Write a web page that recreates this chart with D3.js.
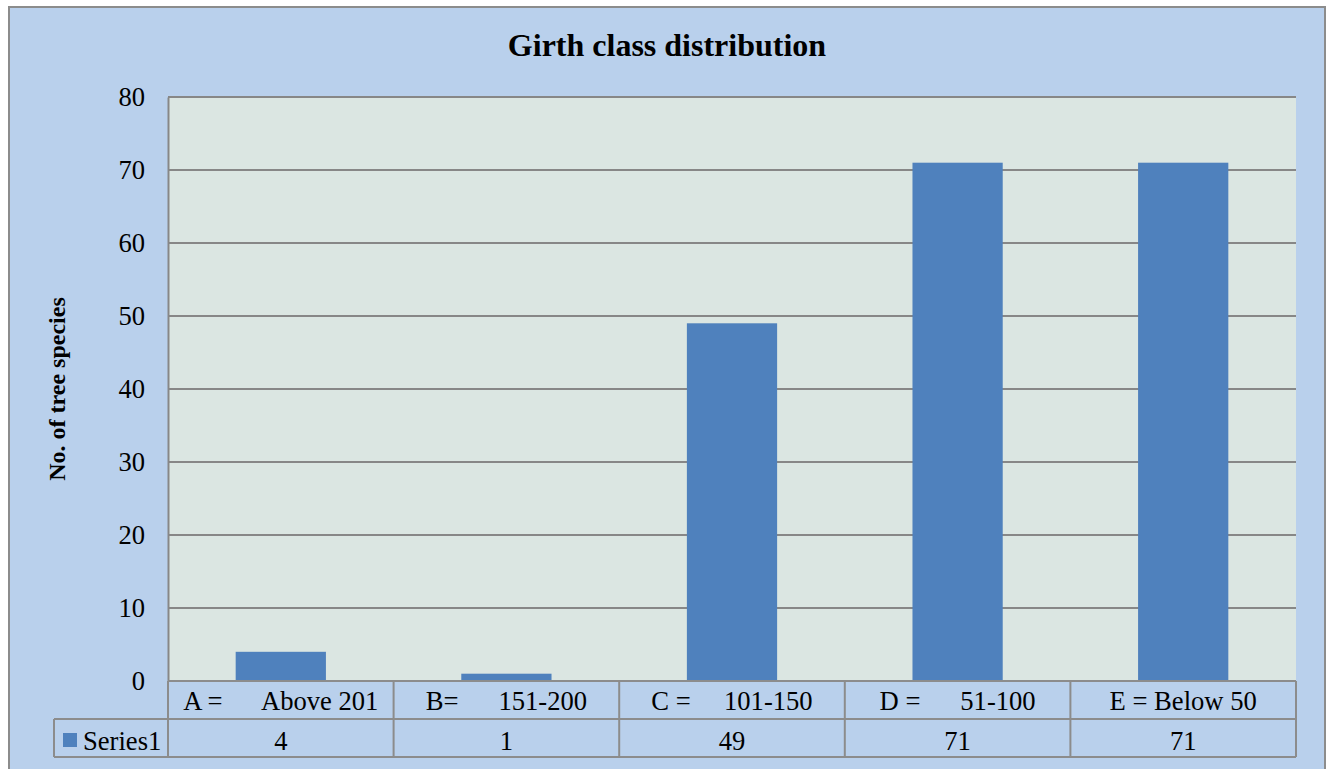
<!DOCTYPE html>
<html>
<head>
<meta charset="utf-8">
<script src="https://cdn.jsdelivr.net/npm/d3@7"></script>
<style>
  html, body { margin: 0; padding: 0; background: #ffffff; }
</style>
</head>
<body>
<svg id="chart" width="1330" height="769"></svg>
<script>
// Girth classes and number of tree species in each
const categories = ["A =      Above 201", "B=      151-200", "C =     101-150", "D =      51-100", "E = Below 50"];
const values = [4, 1, 49, 71, 71];
const seriesName = "Series1";
const yTicks = [0, 10, 20, 30, 40, 50, 60, 70, 80];

const FONT = "'Liberation Serif', Tinos, 'Times New Roman', Times, serif";
const BODY_SIZE = 26.6;

const svg = d3.select("#chart")
  .style("font-family", FONT);

const frame = { left: 9, top: 7, right: 1325, bottom: 775 };
const plot = { left: 168, top: 97, right: 1296, bottom: 681 };
const rowH = 38;
const legendLeft = 54;

const colors = {
  bg: "#b9d0ec",
  plot: "#dbe6e2",
  bar: "#4f81bd",
  grid: "#878787",
  border: "#8c8c8c",
  text: "#000000"
};

// Chart frame
svg.append("rect")
  .attr("x", frame.left).attr("y", frame.top)
  .attr("width", frame.right - frame.left).attr("height", frame.bottom - frame.top)
  .attr("fill", colors.bg).attr("stroke", colors.border).attr("stroke-width", 2);

// Plot area
svg.append("rect")
  .attr("x", plot.left).attr("y", plot.top)
  .attr("width", plot.right - plot.left).attr("height", plot.bottom - plot.top)
  .attr("fill", colors.plot);

const x = d3.scaleBand().domain(categories).range([plot.left, plot.right]).padding(0);
const y = d3.scaleLinear().domain([0, 80]).range([plot.bottom, plot.top]);

// Horizontal gridlines
svg.append("g").selectAll("line").data(yTicks).join("line")
  .attr("x1", plot.left).attr("x2", plot.right)
  .attr("y1", d => y(d)).attr("y2", d => y(d))
  .attr("stroke", colors.grid).attr("stroke-width", 2);

// Value axis
const yAxis = d3.axisLeft(y).tickValues(yTicks).tickSize(0).tickPadding(23);
const yg = svg.append("g").attr("transform", `translate(${plot.left},0)`).call(yAxis)
  .attr("font-family", FONT).attr("font-size", BODY_SIZE);
yg.select(".domain").attr("stroke", colors.grid).attr("stroke-width", 2);
yg.selectAll("text")
  .style("font-family", FONT)
  .attr("fill", colors.text);

// Bars
const barFrac = 0.4;
svg.append("g").selectAll("rect").data(values).join("rect")
  .attr("x", (d, i) => x(categories[i]) + x.bandwidth() * (1 - barFrac) / 2)
  .attr("width", x.bandwidth() * barFrac)
  .attr("y", d => y(d))
  .attr("height", d => y(0) - y(d))
  .attr("fill", colors.bar);

// Data table beneath the plot
const table = svg.append("g").style("font-family", FONT);
const row1Top = plot.bottom, row2Top = plot.bottom + rowH, tableBottom = plot.bottom + 2 * rowH;

table.selectAll("text.cat").data(categories).join("text")
  .attr("class", "cat")
  .attr("xml:space", "preserve")
  .style("white-space", "pre")
  .attr("x", d => x(d) + x.bandwidth() / 2)
  .attr("y", row1Top + 29)
  .attr("text-anchor", "middle")
  .attr("font-size", BODY_SIZE)
  .attr("fill", colors.text)
  .text(d => d);

table.selectAll("text.val").data(values).join("text")
  .attr("class", "val")
  .attr("x", (d, i) => x(categories[i]) + x.bandwidth() / 2)
  .attr("y", row2Top + 31)
  .attr("text-anchor", "middle")
  .attr("font-size", BODY_SIZE)
  .attr("fill", colors.text)
  .text(d => d);

// Legend key cell
table.append("rect")
  .attr("x", legendLeft + 9).attr("y", row2Top + 14)
  .attr("width", 14).attr("height", 14)
  .attr("fill", colors.bar);
table.append("text")
  .attr("x", legendLeft + 29).attr("y", row2Top + 31)
  .attr("font-size", BODY_SIZE).attr("fill", colors.text)
  .text(seriesName);

// Table grid lines
const tl = (x1, y1, x2, y2) => table.append("line")
  .attr("x1", x1).attr("y1", y1).attr("x2", x2).attr("y2", y2)
  .attr("stroke", colors.border).attr("stroke-width", 2);
tl(plot.left, row1Top, plot.right, row1Top);
tl(legendLeft, row2Top, plot.right, row2Top);
tl(legendLeft, tableBottom, plot.right, tableBottom);
tl(legendLeft, row2Top, legendLeft, tableBottom);
const colEdges = categories.map(c => x(c)).concat([plot.right]);
colEdges.forEach(cx => tl(cx, row1Top, cx, tableBottom));

// Title
svg.append("text")
  .attr("x", 667).attr("y", 56)
  .attr("text-anchor", "middle")
  .attr("font-size", 32).attr("font-weight", "bold")
  .attr("fill", colors.text)
  .text("Girth class distribution");

// Value axis title
svg.append("text")
  .attr("transform", `translate(65,389) rotate(-90)`)
  .attr("text-anchor", "middle")
  .attr("font-size", 24).attr("font-weight", "bold")
  .attr("fill", colors.text)
  .text("No. of tree species");
</script>
</body>
</html>
